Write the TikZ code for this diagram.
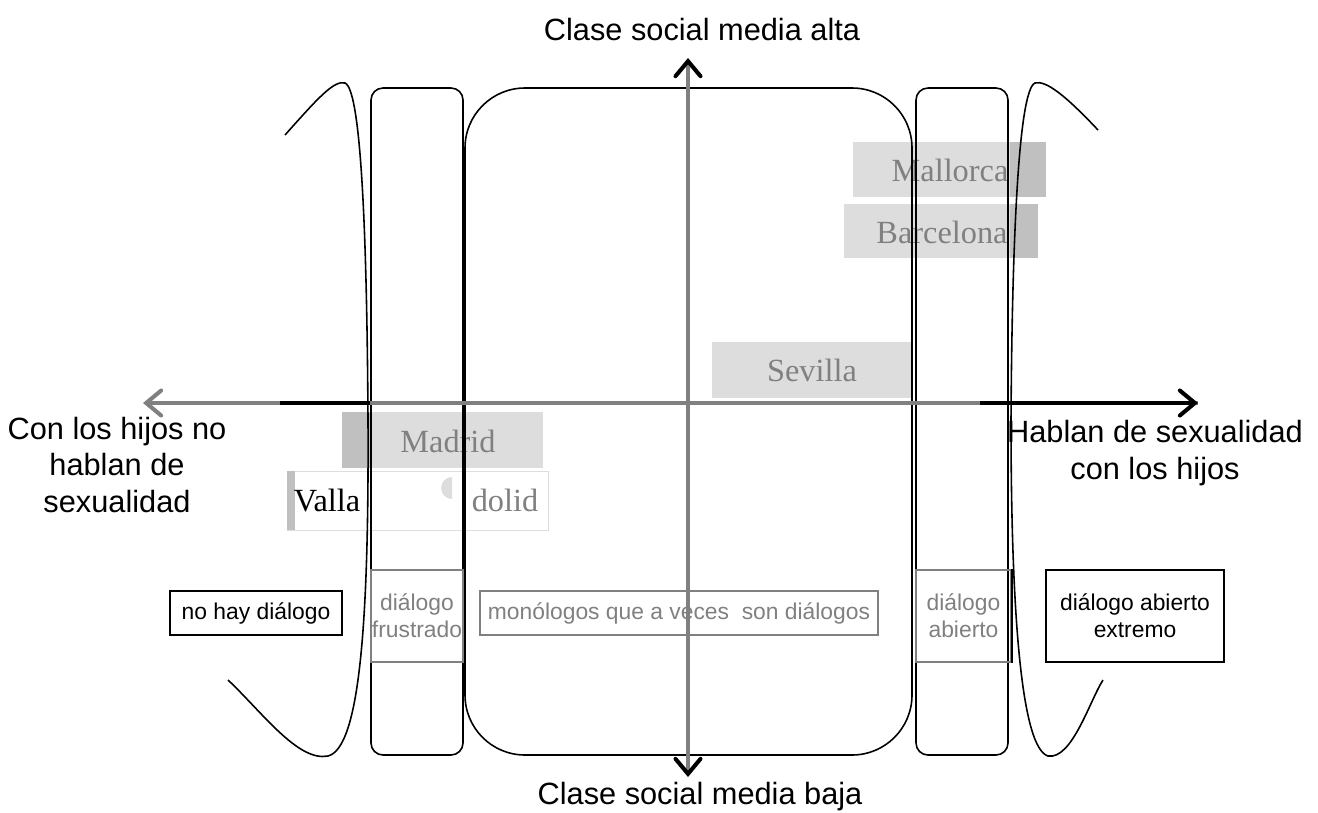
\documentclass[tikz,border=0pt]{standalone}
\usepackage{fontspec}
\setmainfont{Liberation Serif}
\setsansfont{Liberation Sans}
\usepackage{tikz}
\usetikzlibrary{arrows.meta}
\definecolor{claro}{HTML}{DDDDDD}
\definecolor{oscuro}{HTML}{C0C0C0}
\definecolor{ejegris}{HTML}{808080}
\definecolor{textogris}{HTML}{808080}
\tikzset{
  ejelbl/.style  = {font=\sffamily\fontsize{17.5}{21}\selectfont, align=center, inner sep=0pt},
  ciudad/.style  = {font=\rmfamily\fontsize{18.4}{22}\selectfont, text=textogris, inner sep=0pt},
  tipo/.style    = {draw, line width=0.8pt, font=\sffamily\fontsize{13}{15.5}\selectfont,
                    align=center, inner sep=0pt, minimum height=0.88cm},
  tipogris/.style= {tipo, draw=ejegris, text=textogris},
  franja/.style  = {draw, line width=0.9pt, rounded corners=0.24cm},
  curva/.style   = {draw, line width=0.9pt},
  eje/.style     = {line width=2.3pt, draw=ejegris},
  ejenegro/.style= {line width=2.3pt, draw=black},
  punta/.tip     = {Straight Barb[length=0.3cm, width=0.5cm, line cap=round]},
  puntanegra/.tip= {Straight Barb[length=0.3cm, width=0.5cm, line cap=round, color=black]},
}

\begin{document}
\begin{tikzpicture}[x=0.02cm, y=-0.02cm]
  \useasboundingbox (0,0) rectangle (1318,812);

  % cities
  \fill[claro] (853,142) rectangle (1010,197);
  \fill[oscuro] (1010,142) rectangle (1046,197);
  \node[ciudad] (mallorca) at (950,170) {Mallorca};

  \fill[claro] (844,204) rectangle (1010,258);
  \fill[oscuro] (1010,204) rectangle (1038,258);
  \node[ciudad] (barcelona) at (942,232) {Barcelona};

  \fill[claro] (712,342) rectangle (912,398);
  \node[ciudad] (sevilla) at (812,370) {Sevilla};

  \fill[oscuro] (342,412) rectangle (370,468);
  \fill[claro] (370,412) rectangle (543,468);
  \node[ciudad] (madrid) at (448,441) {Madrid};

  \draw[claro, fill=white] (287,471) rectangle (548,530);
  \fill[oscuro] (287,471) rectangle (295,530);
  \fill[claro] (452,499) arc[start angle=90, end angle=270, radius=11];
  \node[ciudad, text=black, anchor=base] (valla) at (327,511) {Valla};
  \node[ciudad, anchor=base] (dolid) at (505,511) {dolid};

  % brackets and strips
  \draw[curva] (285,135) .. controls (318,98) and (334,80) .. (345,83)
    .. controls (362,90) and (367,250) .. (368,420)
    .. controls (369,620) and (360,748) .. (328,756)
    .. controls (298,762) and (262,712) .. (228,680);
  \draw[curva] (1098,130) .. controls (1066,96) and (1046,80) .. (1035,83)
    .. controls (1018,90) and (1012,250) .. (1011,420)
    .. controls (1011,620) and (1022,748) .. (1048,756)
    .. controls (1072,760) and (1090,700) .. (1103,680);
  \draw[franja] (371,88) rectangle (463,755);
  \draw[franja, rounded corners=1.2cm] (465,88) rectangle (912,755);
  \draw[franja] (916,88) rectangle (1008,755);

  % axes
  \coordinate (arriba) at (688,58);
  \coordinate (abajo) at (688,777);
  \coordinate (izq) at (143,403);
  \coordinate (der) at (1198,403);
  \coordinate (negroA) at (280,403);
  \coordinate (negroB) at (370,403);
  \coordinate (negroC) at (980,403);
  \draw[eje, puntanegra-puntanegra] (abajo) -- (arriba);
  \draw[eje, punta-] (izq) -- (der);
  \draw[ejenegro] (negroA) -- (negroB);
  \draw[ejenegro, -punta] (negroC) -- (der);

  % axis labels
  \node[ejelbl] (alta) at (702,30) {Clase social media alta};
  \node[ejelbl] (baja) at (700,797) {Clase social media baja};
  \node[ejelbl] (nohablan) at (117,465) {Con los hijos no\\hablan de\\sexualidad};
  \node[ejelbl] (hablan) at (1155,453) {Hablan de sexualidad\\con los hijos};

  % kinds of dialogue
  \node[tipo, minimum width=3.44cm] (nohay) at (256,613) {no hay diálogo};
  \node[tipogris, minimum width=1.84cm, minimum height=1.84cm] (frustrado) at (417,616) {diálogo\\frustrado};
  \node[tipogris, minimum width=7.96cm] (monologos) at (679,613) {monólogos que a veces\ \ son diálogos};
  \node[tipogris, minimum width=1.9cm, minimum height=1.84cm] (abierto) at (963.5,616) {diálogo\\abierto};
  \draw[line width=1.2pt] (abierto.north east) -- (abierto.south east);
  \node[tipo, minimum width=3.56cm, minimum height=1.84cm] (extremo) at (1135,616) {diálogo abierto\\extremo};
\end{tikzpicture}
\end{document}
